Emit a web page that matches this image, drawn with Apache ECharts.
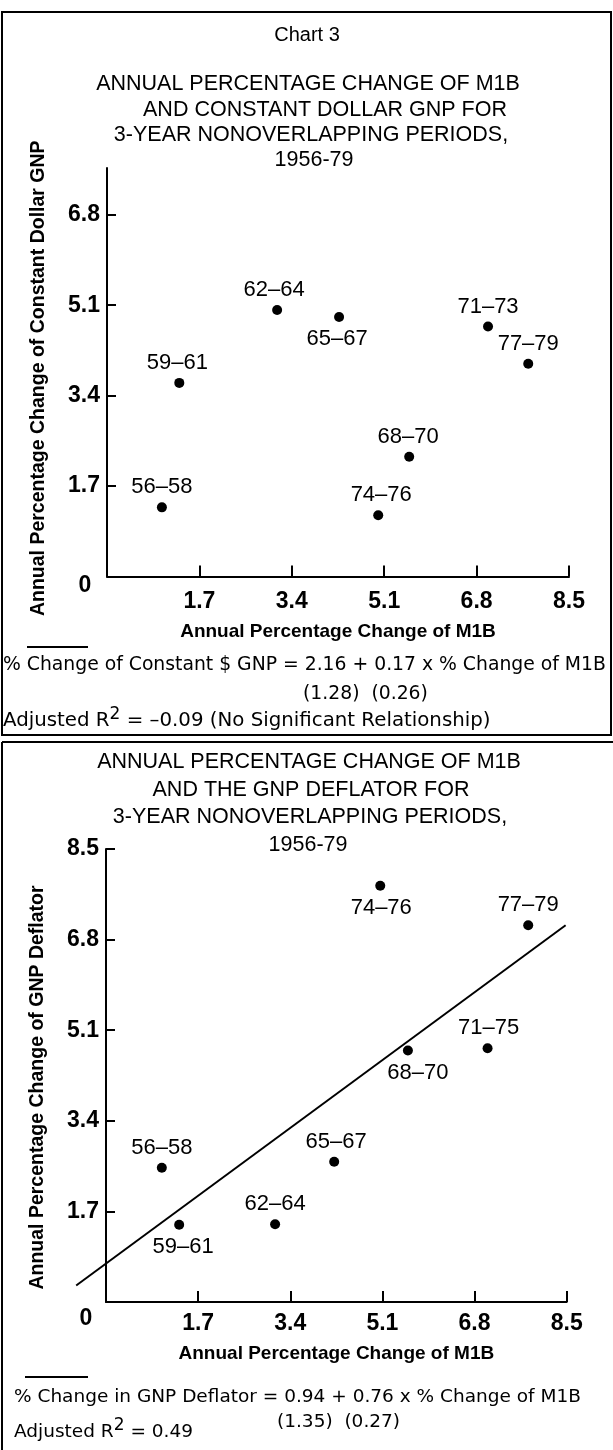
<!DOCTYPE html>
<html>
<head>
<meta charset="utf-8">
<title>Chart 3</title>
<script src="https://cdn.jsdelivr.net/npm/echarts@6/dist/echarts.min.js"></script>
<style>
    html, body { margin: 0; padding: 0; background: #fff; }
    #chart { width: 613px; height: 1450px; }
</style>
</head>
<body>
<div id="chart"></div>
<script>
    // ---- data ----
    // upper panel: M1B vs constant dollar GNP
    var gnpPeriods = ['56–58', '59–61', '62–64', '65–67', '68–70', '71–73', '74–76', '77–79'];
    var gnpM1b     = [1.01, 1.33, 3.13, 4.27, 5.56, 7.01, 4.99, 7.75];
    var gnpChange  = [1.30, 3.64, 5.01, 4.88, 2.25, 4.70, 1.15, 4.00];
    var gnpLabelSide = ['top', 'top', 'top', 'bottom', 'top', 'top', 'top', 'top'];
    var gnpLabelDx   = [0, -2, -3, -2, -1, 0, 3, 0];

    // lower panel: M1B vs GNP deflator
    var defPeriods = ['56–58', '59–61', '62–64', '65–67', '68–70', '71–75', '74–76', '77–79'];
    var defM1b     = [1.03, 1.35, 3.12, 4.21, 5.57, 7.04, 5.06, 7.79];
    var defChange  = [2.52, 1.45, 1.46, 2.63, 4.72, 4.76, 7.81, 7.07];
    var defLabelSide = ['top', 'bottom', 'top', 'top', 'bottom', 'top', 'bottom', 'top'];
    var defLabelDx   = [0, 4, 0, 2, 10, 1, 1, 0];

    // fitted line as drawn (end points, runs past the y axis on the left)
    var fitX = [-0.55, 8.48];
    var fitY = [0.31, 7.07];

    // ticks
    var xTicks    = [1.7, 3.4, 5.1, 6.8, 8.5];
    var yTicksTop = [1.7, 3.4, 5.1, 6.8];
    var yTicksBot = [1.7, 3.4, 5.1, 6.8, 8.5];
    var cornerLabel = '0';

    // texts
    var chartNo = 'Chart 3';
    var titleTop = ['ANNUAL PERCENTAGE CHANGE OF M1B', 'AND CONSTANT DOLLAR GNP FOR', '3-YEAR NONOVERLAPPING PERIODS,', '1956-79'];
    var titleBot = ['ANNUAL PERCENTAGE CHANGE OF M1B', 'AND THE GNP DEFLATOR FOR', '3-YEAR NONOVERLAPPING PERIODS,', '1956-79'];
    var xName = 'Annual Percentage Change of M1B';
    var yNameTop = 'Annual Percentage Change of Constant Dollar GNP';
    var yNameBot = 'Annual Percentage Change of GNP Deflator';
    var eqTop = ['% Change of Constant $ GNP = 2.16 + 0.17 x % Change of M1B', '(1.28)  (0.26)', 'Adjusted R{sup|2} = –0.09 (No Significant Relationship)'];
    var eqBot = ['% Change in GNP Deflator = 0.94 + 0.76 x % Change of M1B', '(1.35)  (0.27)', 'Adjusted R{sup|2} = 0.49'];

    var SANS = '"Liberation Sans", Arial, sans-serif';
    var WIDE = '"DejaVu Sans", Verdana, sans-serif';

    function points(xs, ys, names, sides, dxs) {
        var out = [];
        for (var i = 0; i < xs.length; i++) {
            out.push({
                value: [xs[i], ys[i]],
                name: names[i],
                label: { position: sides[i], offset: [dxs[i], 0], distance: sides[i] == 'top' ? 4 : 6 }
            });
        }
        return out;
    }

    function xAxisCfg(gridIndex, margin, gap) {
        return {
            gridIndex: gridIndex, type: 'value', min: 0, max: 8.5, interval: 1.7,
            name: xName, nameLocation: 'middle', nameGap: gap, nameMoveOverlap: false,
            nameTextStyle: { fontFamily: SANS, fontWeight: 'bold', fontSize: 19, color: '#000' },
            axisLine: { onZero: false, lineStyle: { color: '#000', width: 2 } },
            axisTick: { inside: true, length: 11, customValues: xTicks, lineStyle: { color: '#000', width: 2 } },
            axisLabel: { customValues: xTicks, margin: margin, fontFamily: SANS, fontWeight: 'bold', fontSize: 23, color: '#000' },
            splitLine: { show: false }
        };
    }

    function yAxisCfg(gridIndex, max, ticks, name, pad) {
        return {
            gridIndex: gridIndex, type: 'value', min: 0, max: max, interval: 1.7,
            name: name, nameLocation: 'middle', nameGap: 58, nameMoveOverlap: false,
            nameTextStyle: { fontFamily: SANS, fontWeight: 'bold', fontSize: 19.5, color: '#000', padding: pad },
            axisLine: { onZero: false, lineStyle: { color: '#000', width: 2 } },
            axisTick: { inside: true, length: 9, customValues: ticks, lineStyle: { color: '#000', width: 2 } },
            axisLabel: { customValues: ticks, margin: 7, fontFamily: SANS, fontWeight: 'bold', fontSize: 23, color: '#000' },
            splitLine: { show: false }
        };
    }

    function scatterCfg(idx, data) {
        return {
            type: 'scatter', xAxisIndex: idx, yAxisIndex: idx,
            symbol: 'circle', symbolSize: 10,
            itemStyle: { color: '#000', opacity: 1 },
            label: {
                show: true, formatter: '{b}',
                fontFamily: SANS, fontSize: 22, color: '#000'
            },
            data: data, z: 5
        };
    }

    function textEl(str, x, y, align, font, size, weight) {
        return {
            type: 'text', x: x, y: y, silent: true,
            style: {
                text: str, fill: '#000',
                fontFamily: font, fontSize: size, fontWeight: weight || 'normal',
                lineHeight: 30,
                align: align, verticalAlign: 'middle',
                textAlign: align, textVerticalAlign: 'middle',
                rich: { sup: { fontFamily: font, fontSize: 17, lineHeight: 17, verticalAlign: 'top', fill: '#000' } }
            }
        };
    }

    var graphics = [
        // panel frames
        { type: 'rect', shape: { x: 2, y: 12, width: 609, height: 723 }, style: { fill: 'none', stroke: '#000', lineWidth: 2 } },
        { type: 'line', shape: { x1: 2, y1: 742, x2: 613, y2: 742 }, style: { stroke: '#000', lineWidth: 2 } },
        { type: 'line', shape: { x1: 2, y1: 742, x2: 2, y2: 1450 }, style: { stroke: '#000', lineWidth: 2 } },
        // short rules above the equations
        { type: 'line', shape: { x1: 27, y1: 647, x2: 88, y2: 647 }, style: { stroke: '#000', lineWidth: 2 } },
        { type: 'line', shape: { x1: 25, y1: 1377, x2: 88, y2: 1377 }, style: { stroke: '#000', lineWidth: 2 } },
        textEl(chartNo, 307, 35, 'center', SANS, 20),
        textEl(titleTop[0], 308, 84, 'center', SANS, 21.5),
        textEl(titleTop[1], 325, 110, 'center', SANS, 21.5),
        textEl(titleTop[2], 311, 135, 'center', SANS, 21.5),
        textEl(titleTop[3], 314, 160, 'center', SANS, 21.5),
        textEl(titleBot[0], 309, 762, 'center', SANS, 21.5),
        textEl(titleBot[1], 311, 790, 'center', SANS, 21.5),
        textEl(titleBot[2], 310, 817, 'center', SANS, 21.5),
        textEl(titleBot[3], 308, 845, 'center', SANS, 21.5),
        textEl(cornerLabel, 85, 586, 'center', SANS, 23, 'bold'),
        textEl(cornerLabel, 86, 1319, 'center', SANS, 23, 'bold'),
        textEl(eqTop[0], 3, 665, 'left', WIDE, 18.8),
        textEl(eqTop[1], 303, 694, 'left', WIDE, 18.8),
        textEl(eqTop[2], 3, 721, 'left', WIDE, 19.8),
        textEl(eqBot[0], 14, 1397, 'left', WIDE, 18.5),
        textEl(eqBot[1], 277, 1422, 'left', WIDE, 18.5),
        textEl(eqBot[2], 14, 1432, 'left', WIDE, 18.5)
    ];

    var chart = echarts.init(document.getElementById('chart'), null, { renderer: 'canvas' });
    chart.setOption({
        backgroundColor: '#fff',
        animation: false,
        grid: [
            { left: 107, right: 44, top: 168, bottom: 873.5, outerBoundsMode: 'none' },
            { left: 106, right: 46.3, top: 849, bottom: 148, outerBoundsMode: 'none' }
        ],
        xAxis: [xAxisCfg(0, 14, 46), xAxisCfg(1, 10, 42)],
        yAxis: [
            yAxisCfg(0, 7.68, yTicksTop, yNameTop, [0, 12, 0, 0]),
            yAxisCfg(1, 8.5, yTicksBot, yNameBot, [0, 24, 0, 0])
        ],
        series: [
            scatterCfg(0, points(gnpM1b, gnpChange, gnpPeriods, gnpLabelSide, gnpLabelDx)),
            scatterCfg(1, points(defM1b, defChange, defPeriods, defLabelSide, defLabelDx))
        ]
    });

    // the fitted line runs past the axis, so place it with the lower grid's scales
    var p0 = chart.convertToPixel({ gridIndex: 1 }, [fitX[0], fitY[0]]);
    var p1 = chart.convertToPixel({ gridIndex: 1 }, [fitX[1], fitY[1]]);
    graphics.push({
        type: 'line', silent: true, z: 3,
        shape: { x1: p0[0], y1: p0[1], x2: p1[0], y2: p1[1] },
        style: { stroke: '#000', lineWidth: 2 }
    });
    chart.setOption({ graphic: graphics });
</script>
</body>
</html>
